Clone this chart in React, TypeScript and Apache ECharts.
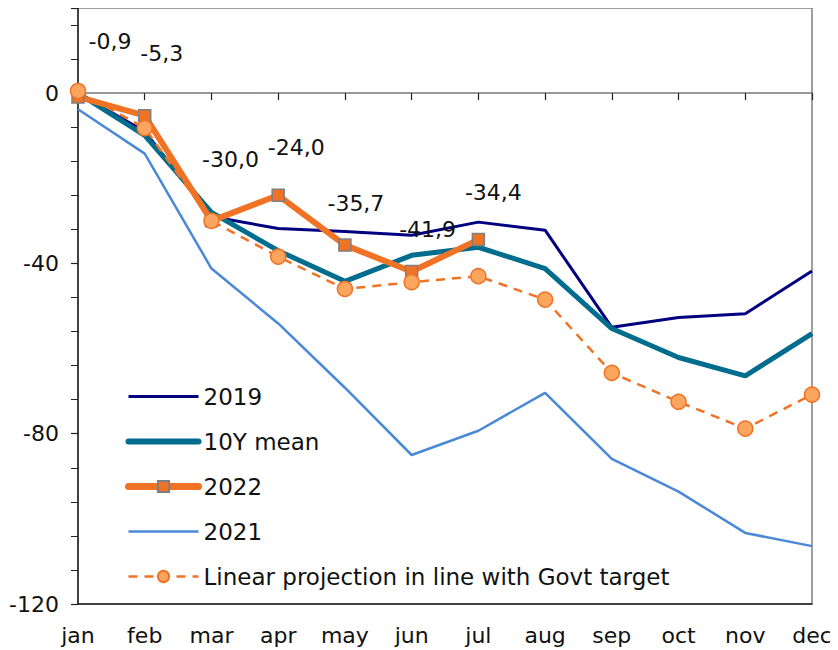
import React, { useEffect, useRef } from "react";
import * as echarts from "echarts";

const months = ["jan", "feb", "mar", "apr", "may", "jun", "jul", "aug", "sep", "oct", "nov", "dec"];
const y2019 = [0, -9, -29, -31.8, -32.5, -33.4, -30.3, -32.2, -55, -52.7, -51.8, -41.8];
const mean10Y = [0, -9.9, -28, -37, -44.2, -38.1, -36.2, -41.2, -55.3, -62.1, -66.4, -56.5];
const y2022 = [-0.9, -5.3, -30.0, -24.0, -35.7, -41.9, -34.4];
const y2021 = [-3.8, -14.2, -41.2, -54.1, -69.2, -85, -79.3, -70.4, -85.9, -93.6, -103.3, -106.4];
const projection = [0.5, -8.2, -30, -38.4, -46, -44.4, -43, -48.5, -65.7, -72.5, -78.8, -70.8];
const yTicks = { min: -120, max: 20, interval: 40 };

// label offsets (style, not data)
const labelOffsets2022: number[][] = [[32, -33], [17, -39], [19, -39], [18, -25], [11, -19], [16, -19], [15, -24]];

const FONT = "DejaVu Sans";
const C2019 = "#000080";
const CMEAN = "#006C8E";
const C2022 = "#F07325";
const C2021 = "#4A88D8";

export default function App() {
  const ref = useRef<HTMLDivElement>(null);
  useEffect(() => {
    if (!ref.current) return;
    const chart = echarts.init(ref.current, null, { renderer: "svg" });
    const data2022 = y2022.map((v, i) => ({
      value: v,
      label: { offset: labelOffsets2022[i] },
    }));
    chart.setOption({
      animation: false,
      textStyle: { fontFamily: FONT },
      grid: {
        left: 78,
        right: 26,
        top: 8,
        bottom: 46,
        show: true,
        borderColor: "#808080",
        borderWidth: 1.5,
        backgroundColor: "transparent",
      },
      legend: {
        orient: "vertical",
        left: 120,
        top: 379,
        itemWidth: 70,
        itemHeight: 14,
        itemGap: 20,
        textStyle: { fontFamily: FONT, fontSize: 23, lineHeight: 25, color: "#111" },
        data: [
          { name: "2019", itemStyle: { opacity: 0 }, lineStyle: { width: 3, color: C2019 } },
          { name: "10Y mean", itemStyle: { opacity: 0 }, lineStyle: { width: 6, color: CMEAN, cap: "round" } },
          { name: "2022", lineStyle: { width: 7, color: C2022, cap: "round" } },
          { name: "2021", itemStyle: { opacity: 0 }, lineStyle: { width: 2.5, color: C2021 } },
          { name: "Linear projection in line with Govt target", lineStyle: { width: 2.5, color: C2022, type: [9, 7] } },
        ],
      },
      xAxis: [
        {
          type: "category",
          data: months,
          boundaryGap: false,
          position: "bottom",
          axisLine: { onZero: false, lineStyle: { color: "#222", width: 1.5 } },
          axisTick: { show: false },
          axisLabel: { fontFamily: FONT, fontSize: 22, color: "#111", margin: 20 },
          splitLine: { show: false },
        },
        {
          type: "category",
          data: months,
          boundaryGap: false,
          position: "top",
          axisLine: { onZero: true, lineStyle: { color: "#777", width: 1.5 } },
          axisTick: { show: true, inside: true, length: 7, lineStyle: { color: "#222", width: 1.2 } },
          axisLabel: { show: false },
          splitLine: { show: false },
        },
      ],
      yAxis: {
        type: "value",
        min: yTicks.min,
        max: yTicks.max,
        interval: yTicks.interval,
        axisLine: { show: true, lineStyle: { color: "#222", width: 1.5 } },
        axisTick: { show: true, length: 7, lineStyle: { color: "#222", width: 1.2 } },
        minorTick: { show: true, splitNumber: 5, length: 7, lineStyle: { color: "#222", width: 1 } },
        axisLabel: {
          fontFamily: FONT,
          fontSize: 22,
          color: "#111",
          margin: 19,
          formatter: (v: number) => (v > 0 ? "" : String(v)),
        },
        splitLine: { show: false },
      },
      series: [
        {
          name: "2021",
          type: "line",
          data: y2021,
          symbol: "none",
          lineStyle: { color: C2021, width: 2.5 },
          itemStyle: { color: C2021 },
          z: 2,
        },
        {
          name: "2019",
          type: "line",
          data: y2019,
          symbol: "none",
          lineStyle: { color: C2019, width: 3 },
          itemStyle: { color: C2019 },
          z: 3,
        },
        {
          name: "10Y mean",
          type: "line",
          data: mean10Y,
          symbol: "none",
          lineStyle: { color: CMEAN, width: 5 },
          itemStyle: { color: CMEAN },
          z: 4,
        },
        {
          name: "2022",
          type: "line",
          data: data2022,
          symbol: "rect",
          symbolSize: 12,
          lineStyle: { color: C2022, width: 6 },
          itemStyle: { color: C2022, borderColor: "#7F7F7F", borderWidth: 1.5 },
          label: {
            show: true,
            position: "top",
            fontFamily: FONT,
            fontSize: 22,
            color: "#111",
            formatter: (p: any) => Number(p.value).toFixed(1).replace(".", ","),
          },
          z: 5,
        },
        {
          name: "Linear projection in line with Govt target",
          type: "line",
          data: projection,
          symbol: "circle",
          symbolSize: 15,
          lineStyle: { color: C2022, width: 2.5, type: [9, 7] },
          itemStyle: { color: "#FCA55E", borderColor: C2022, borderWidth: 1.5 },
          z: 6,
        },
      ],
    });
    return () => chart.dispose();
  }, []);
  return <div ref={ref} style={{ width: 838, height: 650, marginLeft: -8, marginTop: -8 }} />;
}
